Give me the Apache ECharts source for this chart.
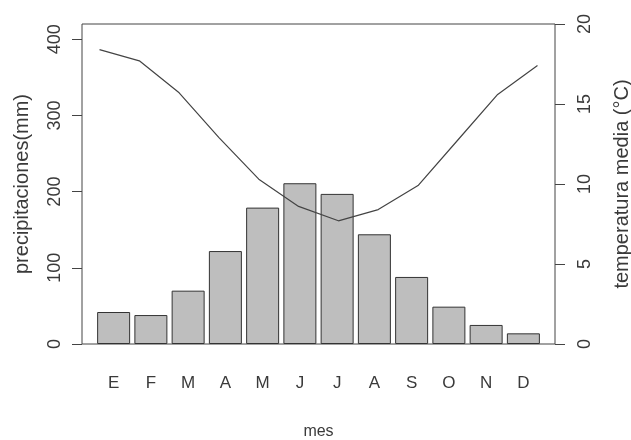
<!DOCTYPE html>
<html>
<head>
<meta charset="utf-8">
<script src="https://cdn.jsdelivr.net/npm/echarts@6/dist/echarts.min.js"></script>
<style>
  html, body { margin: 0; padding: 0; background: #fff; }
  #chart { width: 631px; height: 440px; }
</style>
</head>
<body>
<div id="chart"></div>
<script>
// meses y datos climáticos
const months = ["E", "F", "M", "A", "M", "J", "J", "A", "S", "O", "N", "D"];
const precip = [42, 38, 70, 122, 179, 211, 197, 144, 88, 49, 25, 14];
const temp = [18.4, 17.7, 15.7, 12.9, 10.3, 8.6, 7.7, 8.4, 9.9, 12.75, 15.6, 17.4];
const precipTicks = [0, 100, 200, 300, 400];

const font = "'Liberation Sans', Arial, sans-serif";
const ink = "#3a3a3a";

const chart = echarts.init(document.getElementById("chart"));

const option = {
  animation: false,
  backgroundColor: "#fff",
  textStyle: { fontFamily: font, color: ink },
  grid: [
    // bars
    {
      left: 95, right: 89, top: 24, bottom: 96,
      show: false, outerBoundsMode: "none",
    },
    // box for the temperature line
    {
      left: 82, right: 76, top: 24, bottom: 96,
      show: true, borderColor: "#444", borderWidth: 1,
      backgroundColor: "transparent", outerBoundsMode: "none",
    },
  ],
  xAxis: [
    {
      type: "category",
      gridIndex: 0,
      data: months,
      axisLine: { show: false },
      axisTick: { show: false },
      axisLabel: {
        margin: 31,
        fontSize: 17,
        fontFamily: "'Liberation Sans Narrow', " + font,
        color: ink,
      },
      name: "mes",
      nameLocation: "middle",
      nameGap: 80,
      nameTextStyle: { fontSize: 16, color: ink, fontFamily: font },
    },
    {
      type: "value",
      gridIndex: 1,
      min: 0.56,
      max: 12.44,
      show: false,
    },
  ],
  yAxis: [
    {
      type: "value",
      gridIndex: 0,
      position: "left",
      offset: 13,
      min: 0,
      max: 420,
      splitLine: { show: false },
      axisLine: { show: false },
      axisTick: {
        show: true, length: 10, customValues: precipTicks,
        lineStyle: { color: "#444" },
      },
      axisLabel: {
        customValues: precipTicks,
        rotate: 90,
        margin: 18,
        fontSize: 18,
        color: ink,
      },
      name: "precipitaciones(mm)",
      nameLocation: "middle",
      nameGap: 50,
      nameTextStyle: { fontSize: 20, color: ink },
    },
    {
      type: "value",
      gridIndex: 1,
      position: "right",
      min: 0,
      max: 20,
      interval: 5,
      splitLine: { show: false },
      axisLine: { show: false },
      axisTick: { show: true, length: 10, lineStyle: { color: "#444" } },
      axisLabel: {
        rotate: 90,
        margin: 21,
        fontSize: 18,
        color: ink,
      },
      name: "temperatura media (°C)",
      nameLocation: "middle",
      nameGap: 57,
      nameTextStyle: { fontSize: 20, color: ink },
    },
  ],
  series: [
    {
      type: "bar",
      xAxisIndex: 0,
      yAxisIndex: 0,
      data: precip,
      barWidth: 33,
      itemStyle: { color: "#bebebe", borderColor: "#333", borderWidth: 1 },
      z: 2,
    },
    {
      type: "line",
      xAxisIndex: 1,
      yAxisIndex: 1,
      data: temp.map((t, i) => [i + 1, t]),
      showSymbol: false,
      smooth: false,
      lineStyle: { color: "#444", width: 1.2 },
      z: 5,
    },
  ],
};

chart.setOption(option);
</script>
</body>
</html>
